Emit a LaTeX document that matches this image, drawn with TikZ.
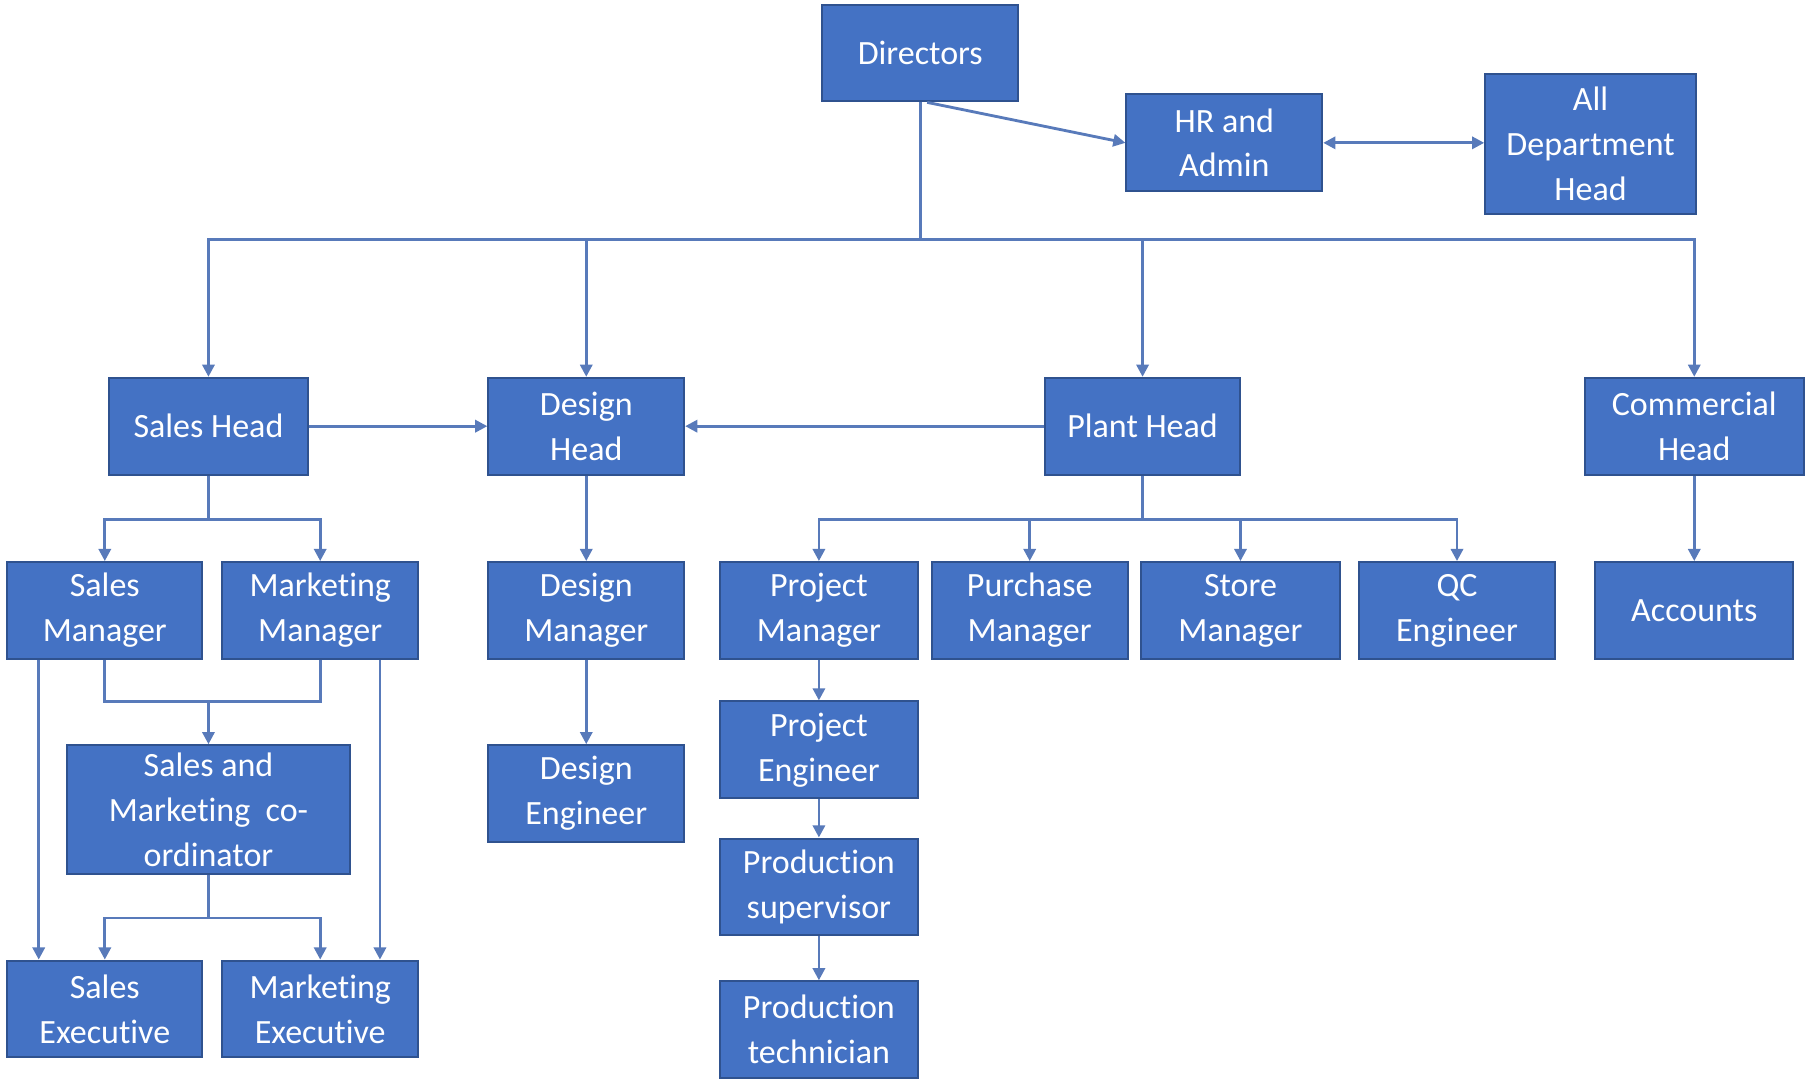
\documentclass[tikz,border=0pt]{standalone}
\usepackage{fontspec}
\setmainfont{Carlito}[Ligatures=NoCommon]
\usepackage{tikz}
\usetikzlibrary{arrows.meta, positioning, calc}
\definecolor{orgblue}{RGB}{68, 114, 196}
\definecolor{orgedge}{RGB}{47, 82, 143}
\definecolor{linkblue}{RGB}{88, 122, 186}

\begin{document}
\begin{tikzpicture}[
  x=0.1mm, y=-0.1mm,
  pbox/.style={draw=orgedge, line width=0.5pt, fill=orgblue, text=white, align=center, minimum width=1.7cm, minimum height=0.84cm, inner sep=1pt, font=\fontsize{8.4}{11.1}\selectfont},
  link/.style={draw=linkblue, line width=0.7pt},
  arr/.style={link, -{Triangle[length=3pt, width=3pt]}},
  darr/.style={link, {Triangle[length=3pt, width=3pt]}-{Triangle[length=3pt, width=3pt]}}
]
  \useasboundingbox (0,0) rectangle (1568,936);

  % top level
  \node[pbox] (dir) at (799,46) {Directors};
  \node[pbox] (hr) at (1063,124) {HR and\\Admin};
  \node[pbox, minimum width=1.83cm, minimum height=1.21cm] (adh) at (1381,125) {All\\Department\\Head};

  % heads
  \node[pbox, minimum width=1.72cm] (sh) at (181,370) {Sales Head};
  \node[pbox] (dh) at (509,370) {Design\\Head};
  \node[pbox] (ph) at (992,370) {Plant Head};
  \node[pbox, minimum width=1.9cm] (ch) at (1471,370) {Commercial\\Head};

  % managers
  \node[pbox, minimum width=1.69cm] (sm) at (91,530) {Sales\\Manager};
  \node[pbox] (mm) at (278,530) {Marketing\\Manager};
  \node[pbox] (dm) at (509,530) {Design\\Manager};
  \node[pbox, minimum width=1.72cm] (pm) at (711,530) {Project\\Manager};
  \node[pbox] (pum) at (894,530) {Purchase\\Manager};
  \node[pbox, minimum width=1.72cm] (stm) at (1077,530) {Store\\Manager};
  \node[pbox] (qc) at (1265,530) {QC\\Engineer};
  \node[pbox, minimum width=1.72cm] (acc) at (1471,530) {Accounts};

  % lower levels
  \node[pbox, minimum width=2.46cm, minimum height=1.12cm] (smc) at (181,703) {Sales and\\Marketing\ \ co-\\ordinator};
  \node[pbox] (de) at (509,689) {Design\\Engineer};
  \node[pbox, minimum width=1.72cm] (pe) at (711,651) {Project\\Engineer};
  \node[pbox, minimum width=1.72cm] (ps) at (711,770) {Production\\supervisor};
  \node[pbox, minimum width=1.72cm] (pt) at (711,894) {Production\\technician};
  \node[pbox, minimum width=1.69cm] (se) at (91,876) {Sales\\Executive};
  \node[pbox] (me) at (278,876) {Marketing\\Executive};

  % junctions
  \coordinate (bus) at (799,208);
  \coordinate (shs) at (181,451);
  \coordinate (phs) at (992,451);
  \coordinate (smj) at (181,609);
  \coordinate (smcs) at (181,797);

  % directors
  \draw[link] (dir.south) -- (bus);
  \draw[arr] (bus) -| (sh);
  \draw[arr] (bus) -| (dh);
  \draw[arr] (bus) -| (ph);
  \draw[arr] (bus) -| (ch);
  \draw[arr] ([xshift=0.6mm]dir.south) -- (hr.west);
  \draw[darr] (hr.east) -- (hr.east -| adh.west);

  % between heads
  \draw[arr] (sh) -- (dh);
  \draw[arr] (ph) -- (dh);

  % sales
  \draw[link] (sh.south) -- (shs);
  \draw[arr] (shs) -| (sm);
  \draw[arr] (shs) -| (mm);
  \draw[link] (sm.south) |- (smj) -| (mm.south);
  \draw[arr] (smj) -- (smc);
  \draw[arr] ([xshift=2.8mm]sm.south west) -- ([xshift=2.8mm]se.north west);
  \draw[arr] ([xshift=-3.4mm]mm.south east) -- ([xshift=-3.4mm]me.north east);
  \draw[link] (smc.south) -- (smcs);
  \draw[arr] (smcs) -| (se);
  \draw[arr] (smcs) -| (me);

  % design
  \draw[arr] (dh) -- (dm);
  \draw[arr] (dm) -- (de);

  % plant
  \draw[link] (ph.south) -- (phs);
  \draw[arr] (phs) -| (pm);
  \draw[arr] (phs) -| (pum);
  \draw[arr] (phs) -| (stm);
  \draw[arr] (phs) -| (qc);
  \draw[arr] (pm) -- (pe);
  \draw[arr] (pe) -- (ps);
  \draw[arr] (ps) -- (pt);

  % commercial
  \draw[arr] (ch) -- (acc);
\end{tikzpicture}
\end{document}
